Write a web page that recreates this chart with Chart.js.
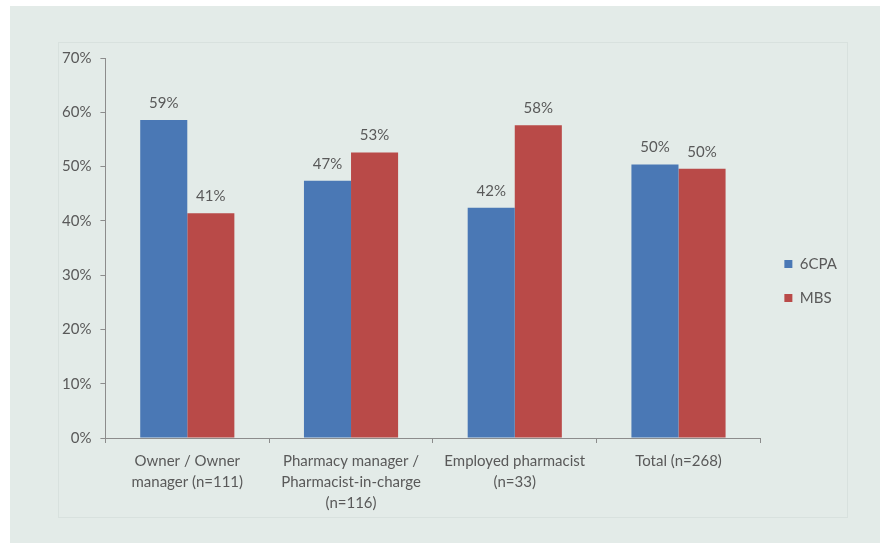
<!DOCTYPE html>
<html>
<head>
<meta charset="utf-8">
<script src="https://cdn.jsdelivr.net/npm/chart.js@4.4.1/dist/chart.umd.min.js"></script>
<style>
  html, body { margin: 0; padding: 0; background: #ffffff; }
  #frame { position: absolute; left: 10px; top: 6px; width: 870px; height: 537px; background: #e3ebe8; }
  #panel { position: absolute; left: 58px; top: 42px; width: 788px; height: 474px; border: 1px solid #d8e1de; }
  #wrap { position: absolute; left: 0; top: 0; width: 885px; height: 543px; }
</style>
</head>
<body>
<div id="frame"></div>
<div id="panel"></div>
<div id="wrap"><canvas id="roles" width="885" height="543"></canvas></div>
<script>
const categories = [
  ["Owner / Owner", "manager (n=111)"],
  ["Pharmacy manager /", "Pharmacist-in-charge", "(n=116)"],
  ["Employed pharmacist", "(n=33)"],
  ["Total (n=268)"]
];
const cpa6 = [58.6, 47.4, 42.4, 50.4];
const mbs = [41.4, 52.6, 57.6, 49.6];
const yTicks = [0, 10, 20, 30, 40, 50, 60, 70];

const textColor = "#595959";
Chart.defaults.font.family = "Lato, \"Open Sans\", sans-serif";
Chart.defaults.font.size = 15;
Chart.defaults.color = textColor;

// percentage labels above each bar
const barLabels = {
  id: "barLabels",
  afterDatasetsDraw(chart) {
    const ctx = chart.ctx;
    ctx.save();
    ctx.font = "15px Lato, sans-serif";
    ctx.fillStyle = textColor;
    ctx.textAlign = "center";
    ctx.textBaseline = "middle";
    chart.data.datasets.forEach((ds, i) => {
      chart.getDatasetMeta(i).data.forEach((bar, j) => {
        ctx.fillText(Math.round(ds.data[j]) + "%", bar.x, bar.y - 17);
      });
    });
    ctx.restore();
  }
};

// nudge the legend a little right and up from where the layout puts it
const legendNudge = {
  id: "legendNudge",
  afterLayout(chart) {
    const lg = chart.legend;
    lg.left += 5; lg.right += 5;
    lg.top -= 9; lg.bottom -= 9;
  }
};

new Chart(document.getElementById("roles"), {
  type: "bar",
  data: {
    labels: categories,
    datasets: [
      {
        label: "6CPA",
        data: cpa6,
        backgroundColor: "#4a78b5",
        barPercentage: 1,
        categoryPercentage: 0.575
      },
      {
        label: "MBS",
        data: mbs,
        backgroundColor: "#b94a48",
        barPercentage: 1,
        categoryPercentage: 0.575
      }
    ]
  },
  options: {
    responsive: false,
    animation: false,
    layout: {
      padding: { left: 53, top: 58, right: 43, bottom: 21 }
    },
    plugins: {
      legend: {
        position: "right",
        labels: {
          boxWidth: 8,
          boxHeight: 8,
          padding: 19,
          color: textColor
        }
      },
      tooltip: { enabled: false }
    },
    scales: {
      x: {
        grid: {
          drawOnChartArea: false,
          offset: true,
          tickLength: 5,
          color: "#8c8c8c"
        },
        border: { color: "#8c8c8c" },
        ticks: {
          padding: 8,
          maxRotation: 0,
          font: { size: 15, lineHeight: 1.4 }
        }
      },
      y: {
        min: 0,
        max: 70,
        afterBuildTicks(scale) {
          scale.ticks = yTicks.map((v) => ({ value: v }));
        },
        grid: {
          drawOnChartArea: false,
          tickLength: 5,
          color: "#8c8c8c"
        },
        border: { color: "#8c8c8c" },
        ticks: {
          padding: 9,
          callback: (v) => v + "%"
        }
      }
    }
  },
  plugins: [barLabels, legendNudge]
});
</script>
</body>
</html>
